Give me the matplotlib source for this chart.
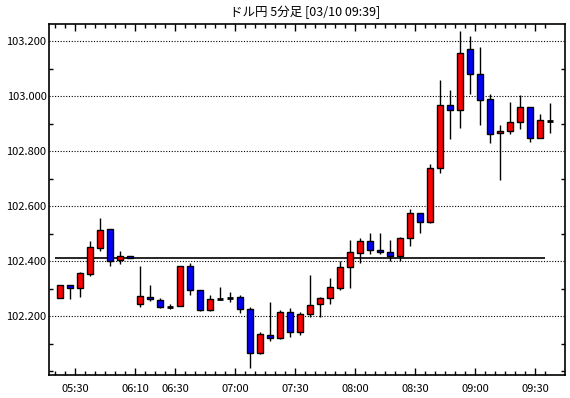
import numpy as np
import matplotlib.pyplot as plt
from matplotlib.ticker import MultipleLocator, FixedLocator

plt.rcParams['font.family'] = ['Noto Sans CJK JP', 'DejaVu Sans']

# DATA (USD/JPY 5 min candles)
opens  = [102.266, 102.313, 102.304, 102.355, 102.449, 102.516, 102.404, 102.418,
          102.244, 102.270, 102.258, 102.234, 102.236, 102.382, 102.295, 102.222,
          102.262, 102.267, 102.269, 102.225, 102.065, 102.131, 102.120, 102.215,
          102.142, 102.207, 102.244, 102.265, 102.302, 102.378, 102.429, 102.473,
          102.440, 102.433, 102.418, 102.484, 102.575, 102.542, 102.738, 102.967,
          102.949, 103.171, 103.080, 102.989, 102.865, 102.873, 102.905, 102.960,
          102.847, 102.911]
closes = [102.313, 102.302, 102.356, 102.451, 102.513, 102.400, 102.418, 102.411,
          102.273, 102.262, 102.233, 102.234, 102.382, 102.295, 102.222, 102.262,
          102.262, 102.267, 102.225, 102.065, 102.135, 102.120, 102.215, 102.142,
          102.207, 102.240, 102.265, 102.305, 102.378, 102.433, 102.473, 102.440,
          102.433, 102.418, 102.484, 102.575, 102.542, 102.738, 102.967, 102.949,
          103.156, 103.080, 102.988, 102.862, 102.873, 102.905, 102.960, 102.847,
          102.913, 102.911]
highs  = [102.313, 102.313, 102.360, 102.474, 102.557, 102.516, 102.437, 102.418,
          102.382, 102.313, 102.265, 102.244, 102.382, 102.393, 102.295, 102.276,
          102.305, 102.287, 102.276, 102.233, 102.142, 102.253, 102.222, 102.229,
          102.215, 102.349, 102.269, 102.339, 102.400, 102.477, 102.484, 102.502,
          102.502, 102.476, 102.487, 102.589, 102.575, 102.753, 103.059, 103.023,
          103.237, 103.219, 103.179, 103.008, 102.895, 102.978, 103.004, 102.960,
          102.935, 102.976]
lows   = [102.266, 102.262, 102.271, 102.348, 102.439, 102.384, 102.391, 102.411,
          102.235, 102.257, 102.229, 102.228, 102.236, 102.276, 102.218, 102.218,
          102.258, 102.253, 102.211, 102.011, 102.062, 102.109, 102.116, 102.126,
          102.133, 102.196, 102.196, 102.244, 102.297, 102.302, 102.393, 102.425,
          102.425, 102.400, 102.400, 102.455, 102.502, 102.540, 102.722, 102.844,
          102.886, 103.009, 102.897, 102.831, 102.697, 102.864, 102.882, 102.835,
          102.847, 102.865]
tick_pos = [2, 8, 12, 18, 24, 30, 36, 42, 48]
tick_labels = ['05:30', '06:10', '06:30', '07:00', '07:30', '08:00', '08:30', '09:00', '09:30']
price_levels = [102.2, 102.4, 102.6, 102.8, 103.0, 103.2]
ref_level = 102.411
title = 'ドル円 5分足 [03/10 09:39]'

# PLOT
fig = plt.figure(figsize=(5.7, 3.98), dpi=100)
ax = fig.add_axes([0.0865, 0.057, 0.9053, 0.882])

x = np.arange(len(opens))
o = np.array(opens); c = np.array(closes)
ax.vlines(x, lows, highs, color='black', lw=1, zorder=2)

up = c > o
dn = c < o
eq = c == o
ax.bar(x[up], (c - o)[up], bottom=o[up], width=0.62, color='#ff0000',
       edgecolor='black', linewidth=1, zorder=3)
ax.bar(x[dn], (o - c)[dn], bottom=c[dn], width=0.62, color='#0000ff',
       edgecolor='black', linewidth=1, zorder=3)
ax.hlines(o[eq], x[eq] - 0.33, x[eq] + 0.33, color='black', lw=2, zorder=3)

ax.hlines(ref_level, -0.5, 48.5, color='black', lw=1.2, zorder=1)

ax.set_xlim(-1.07, 50.53)
ax.set_ylim(101.985, 103.262)

ax.yaxis.set_major_locator(FixedLocator(price_levels))
ax.yaxis.set_minor_locator(MultipleLocator(0.1))
ax.yaxis.set_major_formatter(plt.FuncFormatter(lambda v, p: f'{v:.3f}'))
ax.grid(axis='y', which='major', color='black', linestyle=(0, (1, 1.5)), lw=0.8)

ax.xaxis.set_major_locator(FixedLocator(np.array(tick_pos) - 0.5))
ax.set_xticklabels(tick_labels)
ax.xaxis.set_minor_locator(FixedLocator(x - 0.5))

ax.tick_params(which='both', direction='in', top=True, right=True, labelsize=8,
               width=1, color='black')
ax.tick_params(which='major', length=5)
ax.tick_params(which='minor', length=3)
ax.tick_params(axis='y', which='major', length=0, pad=2)
ax.tick_params(axis='x', pad=6)
for s in ax.spines.values():
    s.set_linewidth(1.2)

fig.text(0.535, 0.97, title, ha='center', va='center', fontsize=9)

plt.savefig('out.png', dpi=100)
